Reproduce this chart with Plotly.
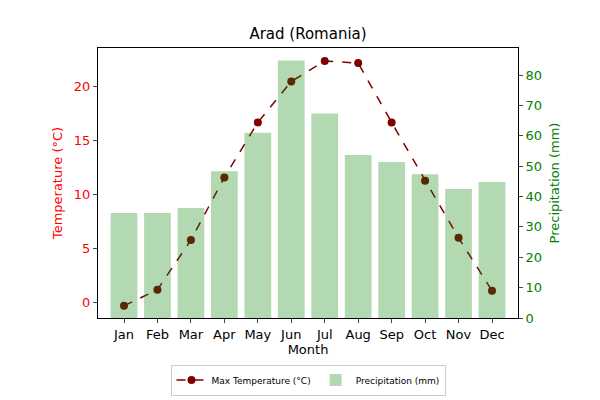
import plotly.graph_objects as go

months = ["Jan", "Feb", "Mar", "Apr", "May", "Jun", "Jul", "Aug", "Sep", "Oct", "Nov", "Dec"]
max_temp = [-0.3, 1.2, 5.8, 11.6, 16.7, 20.5, 22.4, 22.2, 16.7, 11.3, 6.0, 1.1]
precip = [34.6, 34.6, 36.2, 48.3, 61.0, 84.8, 67.3, 53.7, 51.4, 47.3, 42.5, 44.8]

fig = go.Figure()
fig.add_trace(go.Bar(
    x=months, y=precip, name="Precipitation (mm)", yaxis="y2",
    marker=dict(color="rgba(0,128,0,0.3)", line=dict(width=0)),
))
fig.add_trace(go.Scatter(
    x=months, y=max_temp, name="Max Temperature (°C)", yaxis="y",
    mode="lines+markers",
    line=dict(color="#800000", dash="dash", width=1.5),
    marker=dict(color="#800000", size=8),
))

common = dict(showgrid=False, zeroline=False, showline=True, linecolor="black",
              ticks="outside", ticklen=4, automargin=False)

fig.update_layout(
    width=600, height=400,
    template="simple_white",
    font=dict(family="DejaVu Sans", color="black"),
    title=dict(text="Arad (Romania)", x=0.5, y=0.935, xanchor="center", yanchor="middle", font=dict(size=15)),
    margin=dict(l=90, r=90, t=40, b=80),
    bargap=0.2,
    xaxis=dict(title=dict(text="Month", font=dict(size=13), standoff=2), mirror=True,
               tickfont=dict(size=13), **common),
    yaxis=dict(title=dict(text="Temperature (°C)", font=dict(color="red", size=13), standoff=8),
               range=[-1.43, 23.6], tickvals=[0, 5, 10, 15, 20],
               tickfont=dict(color="red", size=13), **common),
    yaxis2=dict(title=dict(text="Precipitation (mm)", font=dict(color="green", size=13), standoff=8),
                overlaying="y", side="right", range=[0, 88.9],
                tickvals=[0, 10, 20, 30, 40, 50, 60, 70, 80],
                tickfont=dict(color="green", size=13), **common),
    legend=dict(orientation="h", x=0.5, xanchor="center", y=-0.23, yanchor="middle",
                bordercolor="#ccc", borderwidth=1, font=dict(size=9),
                traceorder="reversed", itemwidth=30),
)

fig.write_html("out.html")
